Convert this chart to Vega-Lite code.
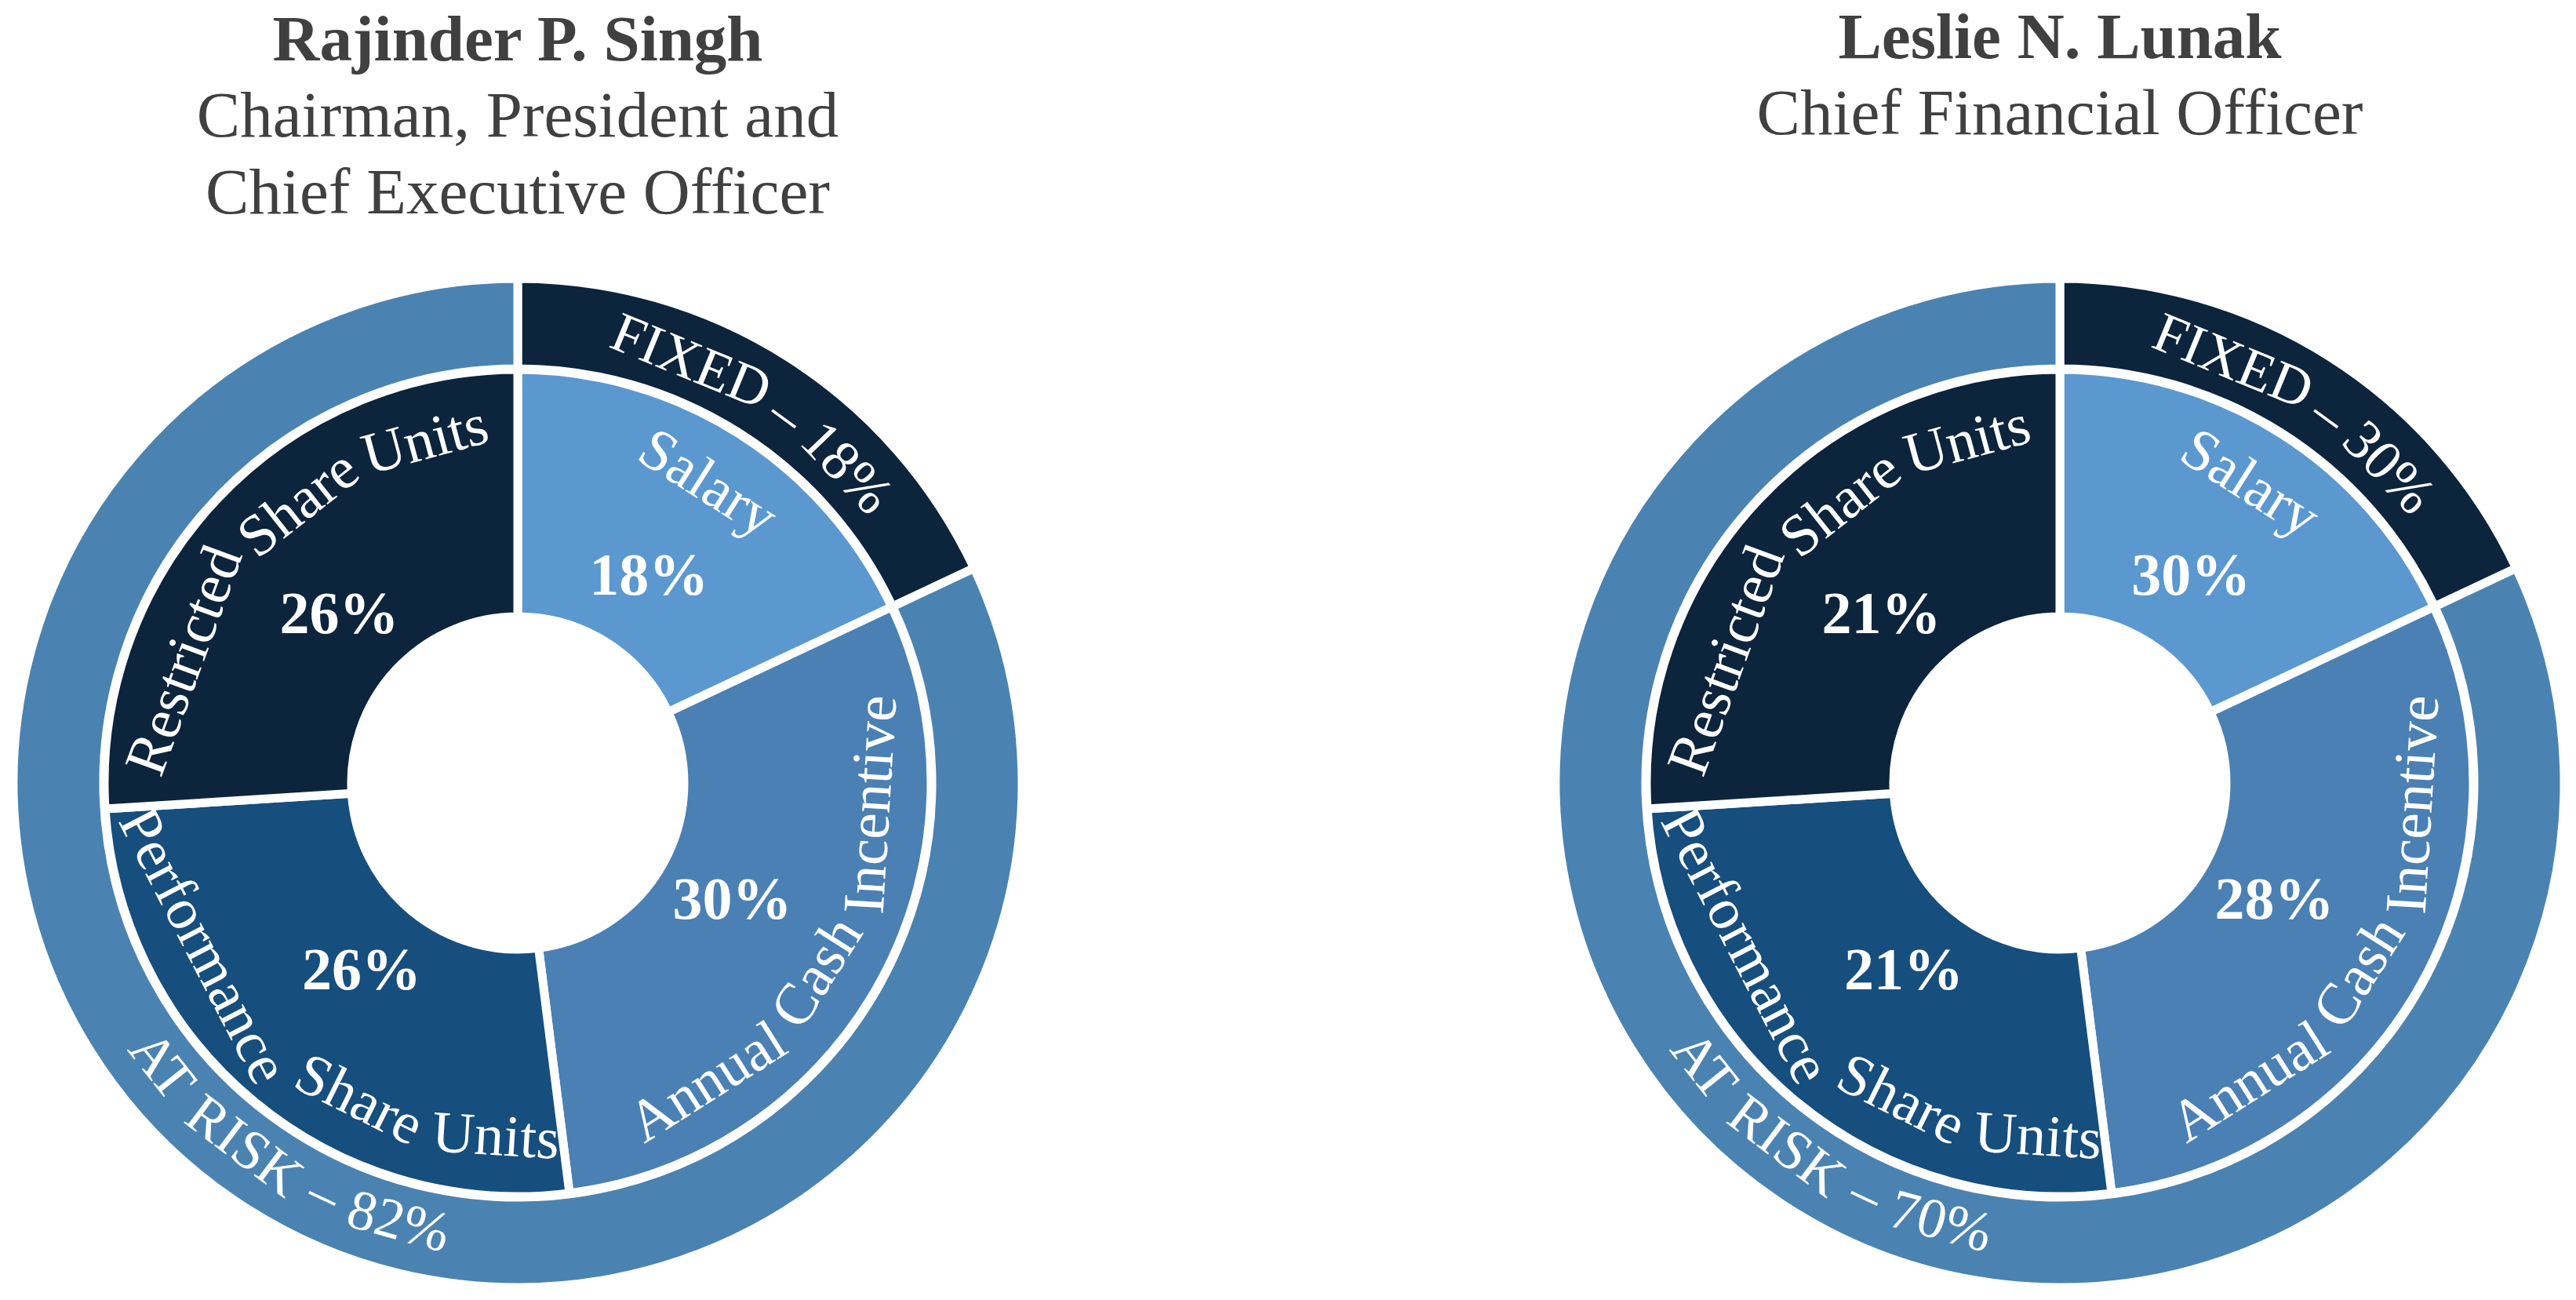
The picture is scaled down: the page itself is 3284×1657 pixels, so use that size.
{
  "$schema": "https://vega.github.io/schema/vega-lite/v6.json",
  "padding": {"left": 5, "top": 8, "right": 0, "bottom": 0},
  "background": "white",
  "config": {
    "view": {"stroke": null},
    "concat": {"spacing": 656},
    "title": {
      "font": "Liberation Serif", "fontSize": 83, "fontWeight": "bold", "color": "#404040",
      "subtitleFont": "Liberation Serif", "subtitleFontSize": 83, "subtitleFontWeight": "normal",
      "subtitleColor": "#404040", "subtitleLineHeight": 98, "subtitlePadding": 14, "anchor": "middle"
    },
    "text": {"font": "Liberation Serif", "color": "white", "align": "center", "baseline": "middle"},
    "arc": {"stroke": "white", "strokeWidth": 11, "strokeJoin": "round"}
  },
  "hconcat": [
    {
      "width": 1310, "height": 1310,
      "title": {"text": "Rajinder P. Singh", "subtitle": ["Chairman, President and", "Chief Executive Officer"], "offset": 54},
      "data": {"values": [
        {"ring": "inner", "segment": "Salary", "value": 18, "arc": 18},
        {"ring": "inner", "segment": "Annual Cash Incentive", "value": 30, "arc": 30},
        {"ring": "inner", "segment": "Performance Share Units", "value": 26, "arc": 26},
        {"ring": "inner", "segment": "Restricted Share Units", "value": 26, "arc": 26},
        {"ring": "outer", "segment": "FIXED", "value": 18, "arc": 18},
        {"ring": "outer", "segment": "AT RISK", "value": 82, "arc": 82}
      ]},
      "transform": [
        {"calculate": "indexof(['Salary','Annual Cash Incentive','Performance Share Units','Restricted Share Units','FIXED','AT RISK'], datum.segment)", "as": "o"},
        {"window": [{"op": "sum", "field": "arc", "as": "cum"}], "groupby": ["ring"], "sort": [{"field": "o"}], "frame": [null, 0]},
        {"calculate": "datum.cum - datum.arc / 2", "as": "mid"},
        {"calculate": "datum.mid * 3.6", "as": "deg"},
        {"calculate": "(datum.deg < 90 || datum.deg > 270) ? 1 : -1", "as": "sgn"},
        {"calculate": "datum.value + '%'", "as": "pct"},
        {"calculate": "datum.ring === 'inner' ? datum.segment : datum.segment + ' – ' + datum.value + '%'", "as": "lab"},
        {"calculate": "split(datum.lab, ' ')", "as": "words"}
      ],
      "layer": [
        {
          "transform": [{"filter": "datum.ring === 'outer'"}],
          "mark": {"type": "arc", "innerRadius": 528, "outerRadius": 643},
          "encoding": {
            "theta": {"field": "arc", "type": "quantitative", "stack": true, "scale": {"domain": [0, 100]}},
            "order": {"field": "o", "type": "quantitative"},
            "color": {"field": "segment", "type": "nominal", "legend": null,
              "scale": {"domain": ["Salary", "Annual Cash Incentive", "Performance Share Units", "Restricted Share Units", "FIXED", "AT RISK"],
                        "range": ["#5b98d0", "#4a80b4", "#164e7e", "#0c243c", "#0c243c", "#4a83b1"]}}
          }
        },
        {
          "transform": [{"filter": "datum.ring === 'inner'"}],
          "mark": {"type": "arc", "innerRadius": 212, "outerRadius": 527},
          "encoding": {
            "theta": {"field": "arc", "type": "quantitative", "stack": true, "scale": {"domain": [0, 100]}},
            "order": {"field": "o", "type": "quantitative"},
            "color": {"field": "segment", "type": "nominal", "legend": null}
          }
        },
        {
          "transform": [
            {"filter": "datum.ring === 'outer'"},
            {"flatten": ["words"], "as": ["word"]},
            {"window": [{"op": "row_number", "as": "wi"}], "groupby": ["segment"]},
            {"calculate": "length(datum.word)", "as": "n"},
            {"calculate": "0.278*(datum.n-length(replace(datum.word,regexp('[ijlt]','g'),'')))+0.333*(datum.n-length(replace(datum.word,regexp('[frI]','g'),'')))+0.389*(datum.n-length(replace(datum.word,regexp('[s]','g'),'')))+0.444*(datum.n-length(replace(datum.word,regexp('[aec]','g'),'')))+0.5*(datum.n-length(replace(datum.word,regexp('[nuhdoyvg0-9–]','g'),'')))+0.778*(datum.n-length(replace(datum.word,regexp('[m]','g'),'')))+0.833*(datum.n-length(replace(datum.word,regexp('[%]','g'),'')))+0.59*(datum.n-length(replace(datum.word,regexp('[SPFTLE]','g'),'')))+0.7*(datum.n-length(replace(datum.word,regexp('[AUXDKNRCH]','g'),'')))+0.5*length(replace(datum.word,regexp('[ijltfrIsaecnuhdoyvg0-9–m%SPFTLEAUXDKNRCH]','g'),''))", "as": "wem"},
            {"calculate": "2 * atan(datum.wem * 72 / (2 * 580))", "as": "aw"},
            {"window": [{"op": "sum", "field": "aw", "as": "cuma"}], "groupby": ["segment"], "sort": [{"field": "wi"}], "frame": [null, 0]},
            {"joinaggregate": [{"op": "sum", "field": "aw", "as": "tota"}, {"op": "count", "as": "nwords"}], "groupby": ["segment"]},
            {"calculate": "datum.cuma - datum.aw / 2 + (0.25 * 72 / 580) * (datum.wi - 1) - (datum.tota + (0.25 * 72 / 580) * (datum.nwords - 1)) / 2", "as": "offa"},
            {"calculate": "datum.deg + datum.sgn * datum.offa * 180 / PI", "as": "thw"},
            {"calculate": "datum.thw / 3.6", "as": "th"},
            {"calculate": "datum.sgn > 0 ? datum.thw : datum.thw - 180", "as": "wrot"}
          ],
          "mark": {"type": "text", "radius": 580, "fontSize": 72},
          "encoding": {
            "theta": {"field": "th", "type": "quantitative", "stack": null, "scale": {"domain": [0, 100]}},
            "angle": {"field": "wrot", "type": "quantitative", "scale": null},
            "text": {"field": "word", "type": "nominal"}
          }
        },
        {
          "transform": [
            {"filter": "datum.ring === 'inner'"},
            {"flatten": ["words"], "as": ["word"]},
            {"window": [{"op": "row_number", "as": "wi"}], "groupby": ["segment"]},
            {"calculate": "length(datum.word)", "as": "n"},
            {"calculate": "0.278*(datum.n-length(replace(datum.word,regexp('[ijlt]','g'),'')))+0.333*(datum.n-length(replace(datum.word,regexp('[frI]','g'),'')))+0.389*(datum.n-length(replace(datum.word,regexp('[s]','g'),'')))+0.444*(datum.n-length(replace(datum.word,regexp('[aec]','g'),'')))+0.5*(datum.n-length(replace(datum.word,regexp('[nuhdoyvg0-9–]','g'),'')))+0.778*(datum.n-length(replace(datum.word,regexp('[m]','g'),'')))+0.833*(datum.n-length(replace(datum.word,regexp('[%]','g'),'')))+0.59*(datum.n-length(replace(datum.word,regexp('[SPFTLE]','g'),'')))+0.7*(datum.n-length(replace(datum.word,regexp('[AUXDKNRCH]','g'),'')))+0.5*length(replace(datum.word,regexp('[ijltfrIsaecnuhdoyvg0-9–m%SPFTLEAUXDKNRCH]','g'),''))", "as": "wem"},
            {"calculate": "2 * atan(datum.wem * 75 / (2 * 452))", "as": "aw"},
            {"window": [{"op": "sum", "field": "aw", "as": "cuma"}], "groupby": ["segment"], "sort": [{"field": "wi"}], "frame": [null, 0]},
            {"joinaggregate": [{"op": "sum", "field": "aw", "as": "tota"}, {"op": "count", "as": "nwords"}], "groupby": ["segment"]},
            {"calculate": "datum.cuma - datum.aw / 2 + (0.22 * 75 / 452) * (datum.wi - 1) - (datum.tota + (0.22 * 75 / 452) * (datum.nwords - 1)) / 2", "as": "offa"},
            {"calculate": "datum.deg + datum.sgn * datum.offa * 180 / PI", "as": "thw"},
            {"calculate": "datum.thw / 3.6", "as": "th"},
            {"calculate": "datum.sgn > 0 ? datum.thw : datum.thw - 180", "as": "wrot"}
          ],
          "mark": {"type": "text", "radius": 452, "fontSize": 75},
          "encoding": {
            "theta": {"field": "th", "type": "quantitative", "stack": null, "scale": {"domain": [0, 100]}},
            "angle": {"field": "wrot", "type": "quantitative", "scale": null},
            "text": {"field": "word", "type": "nominal"}
          }
        },
        {
          "transform": [{"filter": "datum.ring === 'inner'"}],
          "mark": {"type": "text", "radius": 312, "fontSize": 76, "fontWeight": "bold"},
          "encoding": {
            "theta": {"field": "mid", "type": "quantitative", "stack": null, "scale": {"domain": [0, 100]}},
            "text": {"field": "pct", "type": "nominal"}
          }
        }
      ]
    },
    {
      "width": 1310, "height": 1310,
      "title": {"text": "Leslie N. Lunak", "subtitle": ["Chief Financial Officer"], "offset": 155},
      "data": {"values": [
        {"ring": "inner", "segment": "Salary", "value": 30, "arc": 18},
        {"ring": "inner", "segment": "Annual Cash Incentive", "value": 28, "arc": 30},
        {"ring": "inner", "segment": "Performance Share Units", "value": 21, "arc": 26},
        {"ring": "inner", "segment": "Restricted Share Units", "value": 21, "arc": 26},
        {"ring": "outer", "segment": "FIXED", "value": 30, "arc": 18},
        {"ring": "outer", "segment": "AT RISK", "value": 70, "arc": 82}
      ]},
      "transform": [
        {"calculate": "indexof(['Salary','Annual Cash Incentive','Performance Share Units','Restricted Share Units','FIXED','AT RISK'], datum.segment)", "as": "o"},
        {"window": [{"op": "sum", "field": "arc", "as": "cum"}], "groupby": ["ring"], "sort": [{"field": "o"}], "frame": [null, 0]},
        {"calculate": "datum.cum - datum.arc / 2", "as": "mid"},
        {"calculate": "datum.mid * 3.6", "as": "deg"},
        {"calculate": "(datum.deg < 90 || datum.deg > 270) ? 1 : -1", "as": "sgn"},
        {"calculate": "datum.value + '%'", "as": "pct"},
        {"calculate": "datum.ring === 'inner' ? datum.segment : datum.segment + ' – ' + datum.value + '%'", "as": "lab"},
        {"calculate": "split(datum.lab, ' ')", "as": "words"}
      ],
      "layer": [
        {
          "transform": [{"filter": "datum.ring === 'outer'"}],
          "mark": {"type": "arc", "innerRadius": 528, "outerRadius": 643},
          "encoding": {
            "theta": {"field": "arc", "type": "quantitative", "stack": true, "scale": {"domain": [0, 100]}},
            "order": {"field": "o", "type": "quantitative"},
            "color": {"field": "segment", "type": "nominal", "legend": null,
              "scale": {"domain": ["Salary", "Annual Cash Incentive", "Performance Share Units", "Restricted Share Units", "FIXED", "AT RISK"],
                        "range": ["#5b98d0", "#4a80b4", "#164e7e", "#0c243c", "#0c243c", "#4a83b1"]}}
          }
        },
        {
          "transform": [{"filter": "datum.ring === 'inner'"}],
          "mark": {"type": "arc", "innerRadius": 212, "outerRadius": 527},
          "encoding": {
            "theta": {"field": "arc", "type": "quantitative", "stack": true, "scale": {"domain": [0, 100]}},
            "order": {"field": "o", "type": "quantitative"},
            "color": {"field": "segment", "type": "nominal", "legend": null}
          }
        },
        {
          "transform": [
            {"filter": "datum.ring === 'outer'"},
            {"flatten": ["words"], "as": ["word"]},
            {"window": [{"op": "row_number", "as": "wi"}], "groupby": ["segment"]},
            {"calculate": "length(datum.word)", "as": "n"},
            {"calculate": "0.278*(datum.n-length(replace(datum.word,regexp('[ijlt]','g'),'')))+0.333*(datum.n-length(replace(datum.word,regexp('[frI]','g'),'')))+0.389*(datum.n-length(replace(datum.word,regexp('[s]','g'),'')))+0.444*(datum.n-length(replace(datum.word,regexp('[aec]','g'),'')))+0.5*(datum.n-length(replace(datum.word,regexp('[nuhdoyvg0-9–]','g'),'')))+0.778*(datum.n-length(replace(datum.word,regexp('[m]','g'),'')))+0.833*(datum.n-length(replace(datum.word,regexp('[%]','g'),'')))+0.59*(datum.n-length(replace(datum.word,regexp('[SPFTLE]','g'),'')))+0.7*(datum.n-length(replace(datum.word,regexp('[AUXDKNRCH]','g'),'')))+0.5*length(replace(datum.word,regexp('[ijltfrIsaecnuhdoyvg0-9–m%SPFTLEAUXDKNRCH]','g'),''))", "as": "wem"},
            {"calculate": "2 * atan(datum.wem * 72 / (2 * 580))", "as": "aw"},
            {"window": [{"op": "sum", "field": "aw", "as": "cuma"}], "groupby": ["segment"], "sort": [{"field": "wi"}], "frame": [null, 0]},
            {"joinaggregate": [{"op": "sum", "field": "aw", "as": "tota"}, {"op": "count", "as": "nwords"}], "groupby": ["segment"]},
            {"calculate": "datum.cuma - datum.aw / 2 + (0.25 * 72 / 580) * (datum.wi - 1) - (datum.tota + (0.25 * 72 / 580) * (datum.nwords - 1)) / 2", "as": "offa"},
            {"calculate": "datum.deg + datum.sgn * datum.offa * 180 / PI", "as": "thw"},
            {"calculate": "datum.thw / 3.6", "as": "th"},
            {"calculate": "datum.sgn > 0 ? datum.thw : datum.thw - 180", "as": "wrot"}
          ],
          "mark": {"type": "text", "radius": 580, "fontSize": 72},
          "encoding": {
            "theta": {"field": "th", "type": "quantitative", "stack": null, "scale": {"domain": [0, 100]}},
            "angle": {"field": "wrot", "type": "quantitative", "scale": null},
            "text": {"field": "word", "type": "nominal"}
          }
        },
        {
          "transform": [
            {"filter": "datum.ring === 'inner'"},
            {"flatten": ["words"], "as": ["word"]},
            {"window": [{"op": "row_number", "as": "wi"}], "groupby": ["segment"]},
            {"calculate": "length(datum.word)", "as": "n"},
            {"calculate": "0.278*(datum.n-length(replace(datum.word,regexp('[ijlt]','g'),'')))+0.333*(datum.n-length(replace(datum.word,regexp('[frI]','g'),'')))+0.389*(datum.n-length(replace(datum.word,regexp('[s]','g'),'')))+0.444*(datum.n-length(replace(datum.word,regexp('[aec]','g'),'')))+0.5*(datum.n-length(replace(datum.word,regexp('[nuhdoyvg0-9–]','g'),'')))+0.778*(datum.n-length(replace(datum.word,regexp('[m]','g'),'')))+0.833*(datum.n-length(replace(datum.word,regexp('[%]','g'),'')))+0.59*(datum.n-length(replace(datum.word,regexp('[SPFTLE]','g'),'')))+0.7*(datum.n-length(replace(datum.word,regexp('[AUXDKNRCH]','g'),'')))+0.5*length(replace(datum.word,regexp('[ijltfrIsaecnuhdoyvg0-9–m%SPFTLEAUXDKNRCH]','g'),''))", "as": "wem"},
            {"calculate": "2 * atan(datum.wem * 75 / (2 * 452))", "as": "aw"},
            {"window": [{"op": "sum", "field": "aw", "as": "cuma"}], "groupby": ["segment"], "sort": [{"field": "wi"}], "frame": [null, 0]},
            {"joinaggregate": [{"op": "sum", "field": "aw", "as": "tota"}, {"op": "count", "as": "nwords"}], "groupby": ["segment"]},
            {"calculate": "datum.cuma - datum.aw / 2 + (0.22 * 75 / 452) * (datum.wi - 1) - (datum.tota + (0.22 * 75 / 452) * (datum.nwords - 1)) / 2", "as": "offa"},
            {"calculate": "datum.deg + datum.sgn * datum.offa * 180 / PI", "as": "thw"},
            {"calculate": "datum.thw / 3.6", "as": "th"},
            {"calculate": "datum.sgn > 0 ? datum.thw : datum.thw - 180", "as": "wrot"}
          ],
          "mark": {"type": "text", "radius": 452, "fontSize": 75},
          "encoding": {
            "theta": {"field": "th", "type": "quantitative", "stack": null, "scale": {"domain": [0, 100]}},
            "angle": {"field": "wrot", "type": "quantitative", "scale": null},
            "text": {"field": "word", "type": "nominal"}
          }
        },
        {
          "transform": [{"filter": "datum.ring === 'inner'"}],
          "mark": {"type": "text", "radius": 312, "fontSize": 76, "fontWeight": "bold"},
          "encoding": {
            "theta": {"field": "mid", "type": "quantitative", "stack": null, "scale": {"domain": [0, 100]}},
            "text": {"field": "pct", "type": "nominal"}
          }
        }
      ]
    }
  ]
}
